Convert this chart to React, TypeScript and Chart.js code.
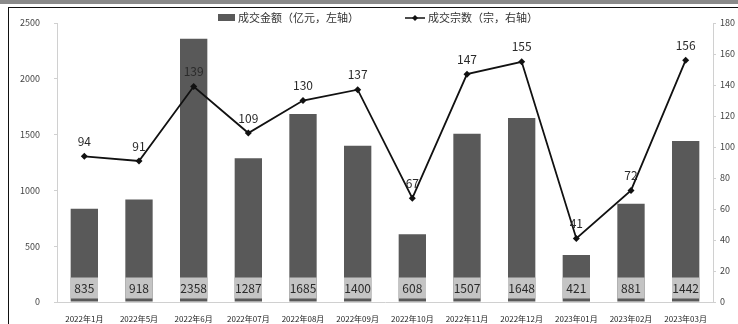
import React, { useEffect, useRef } from "react";
import { Chart, registerables } from "chart.js";

Chart.register(...registerables);

const categories = [
  "2022年1月", "2022年5月", "2022年6月", "2022年07月", "2022年08月", "2022年09月",
  "2022年10月", "2022年11月", "2022年12月", "2023年01月", "2023年02月", "2023年03月",
];
const barValues = [835, 918, 2358, 1287, 1685, 1400, 608, 1507, 1648, 421, 881, 1442];
const lineValues = [94, 91, 139, 109, 130, 137, 67, 147, 155, 41, 72, 156];
const barLabel = "成交金额（亿元，左轴）";
const lineLabel = "成交宗数（宗，右轴）";
const leftTicks = [0, 500, 1000, 1500, 2000, 2500];
const rightTicks = [0, 20, 40, 60, 80, 100, 120, 140, 160, 180];

const FONT = "'Noto Sans CJK SC', 'DejaVu Sans', sans-serif";

const labelPlugin = {
  id: "customLabels",
  afterDatasetsDraw(chart: any) {
    const ctx = chart.ctx;
    ctx.save();
    const barMeta = chart.getDatasetMeta(0);
    barMeta.data.forEach((bar: any, i: number) => {
      const w = bar.width;
      const base = bar.base;
      ctx.fillStyle = "#c4c4c4";
      ctx.fillRect(bar.x - w / 2, base - 24, w, 21);
      ctx.fillStyle = "#2a2a2a";
      ctx.font = `12px ${FONT}`;
      ctx.textAlign = "center";
      ctx.textBaseline = "middle";
      ctx.fillText(String(barValues[i]), bar.x, base - 13);
    });
    const lineMeta = chart.getDatasetMeta(1);
    lineMeta.data.forEach((pt: any, i: number) => {
      ctx.fillStyle = "#2a2a2a";
      ctx.font = `12px ${FONT}`;
      ctx.textAlign = "center";
      ctx.textBaseline = "bottom";
      ctx.fillText(String(lineValues[i]), pt.x, pt.y - 9);
    });
    const cx = 218;
    ctx.fillStyle = "#595959";
    ctx.fillRect(cx, 14, 17, 7);
    ctx.fillStyle = "#333";
    ctx.font = `11px ${FONT}`;
    ctx.textAlign = "left";
    ctx.textBaseline = "middle";
    ctx.fillText(barLabel, cx + 20, 18);
    const lx = 405;
    ctx.strokeStyle = "#111";
    ctx.lineWidth = 1.5;
    ctx.beginPath();
    ctx.moveTo(lx, 18);
    ctx.lineTo(lx + 20, 18);
    ctx.stroke();
    ctx.fillStyle = "#111";
    ctx.beginPath();
    ctx.moveTo(lx + 10, 15);
    ctx.lineTo(lx + 13, 18);
    ctx.lineTo(lx + 10, 21);
    ctx.lineTo(lx + 7, 18);
    ctx.closePath();
    ctx.fill();
    ctx.fillStyle = "#333";
    ctx.fillText(lineLabel, lx + 23, 18);
    ctx.restore();
  },
};

export default function App() {
  const ref = useRef<HTMLCanvasElement>(null);
  useEffect(() => {
    if (!ref.current) return;
    const chart = new Chart(ref.current, {
      type: "bar",
      data: {
        labels: categories,
        datasets: [
          {
            type: "bar",
            label: barLabel,
            data: barValues,
            backgroundColor: "#595959",
            yAxisID: "y",
            categoryPercentage: 1,
            barPercentage: 0.5,
            order: 2,
          },
          {
            type: "line",
            label: lineLabel,
            data: lineValues,
            borderColor: "#111",
            backgroundColor: "#111",
            borderWidth: 1.8,
            pointStyle: "rectRot",
            pointRadius: 3.5,
            pointBackgroundColor: "#111",
            pointBorderWidth: 0,
            tension: 0,
            yAxisID: "y1",
            order: 1,
          } as any,
        ],
      },
      options: {
        responsive: false,
        animation: false,
        layout: { padding: { top: 23, left: 8, right: 0, bottom: 0 } },
        plugins: { legend: { display: false }, tooltip: { enabled: false } },
        scales: {
          x: {
            grid: { display: false },
            border: { color: "#d0d0d0" },
            ticks: {
              color: "#222",
              font: { size: 8, family: FONT },
              maxRotation: 0,
              autoSkip: false,
              padding: 4,
            },
            afterFit: (s: any) => { s.height = 22; },
          },
          y: {
            position: "left",
            min: 0,
            max: 2500,
            afterBuildTicks: (s: any) => { s.ticks = leftTicks.map((v) => ({ value: v })); },
            grid: { drawOnChartArea: false, tickLength: 3, color: "#d0d0d0" },
            border: { color: "#d0d0d0" },
            ticks: { color: "#444", font: { size: 9, family: FONT }, padding: 14, callback: (v: any) => String(v) },
            afterFit: (s: any) => { s.width = 49; },
          },
          y1: {
            position: "right",
            min: 0,
            max: 180,
            afterBuildTicks: (s: any) => { s.ticks = rightTicks.map((v) => ({ value: v })); },
            grid: { drawOnChartArea: false, tickLength: 3, color: "#d0d0d0" },
            border: { color: "#d0d0d0" },
            ticks: { color: "#444", font: { size: 9, family: FONT }, padding: 4, callback: (v: any) => String(v) },
            afterFit: (s: any) => { s.width = 25; },
          },
        },
      },
      plugins: [labelPlugin],
    });
    return () => chart.destroy();
  }, []);
  return (
    <div style={{ position: "absolute", left: 0, top: 0, width: 738, height: 324, background: "#fff", overflow: "hidden" }}>
      <canvas ref={ref} width={738} height={324} style={{ position: "absolute", left: 0, top: 0 }} />
      <div style={{ position: "absolute", left: 0, top: 0, width: 738, height: 4, background: "#8a8a8a" }} />
      <div style={{ position: "absolute", left: 8, top: 7, width: 730, height: 1, background: "#111" }} />
      <div style={{ position: "absolute", left: 8, top: 7, width: 1, height: 317, background: "#111" }} />
    </div>
  );
}
